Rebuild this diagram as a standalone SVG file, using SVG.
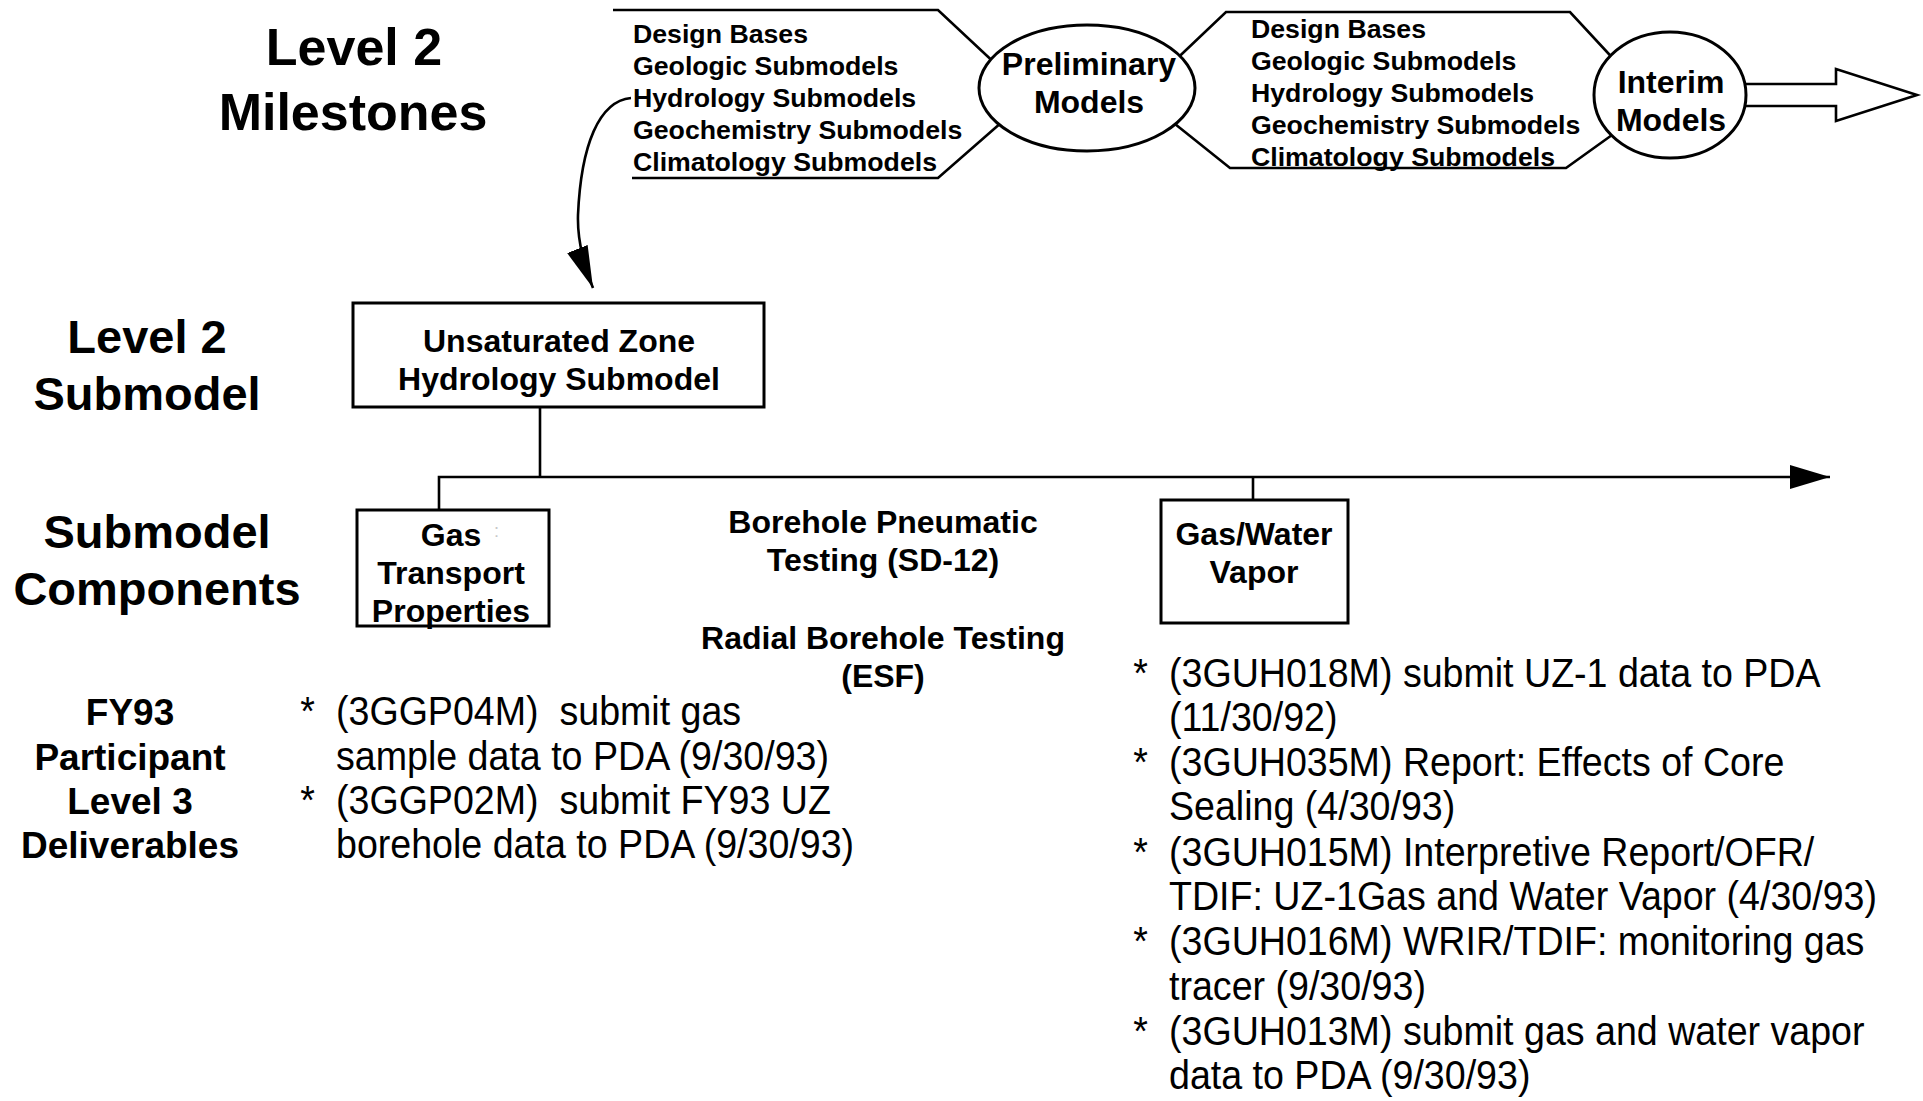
<svg xmlns="http://www.w3.org/2000/svg" width="1923" height="1101" viewBox="0 0 1923 1101">
  <style>
    .ln { stroke: #000; stroke-width: 2.6; fill: none; }
    .box { fill: #fff; stroke: #000; stroke-width: 3; }
    .b { font-family: "Liberation Sans", Arial, Helvetica, sans-serif; font-weight: bold; fill: #000; }
    .r { font-family: "Liberation Sans", Arial, Helvetica, sans-serif; font-weight: normal; fill: #000; }
    .mid { text-anchor: middle; }
    .big { font-size: 52px; }
    .lab { font-size: 47px; }
    .lab3 { font-size: 37px; }
    .nd { font-size: 32px; }
    .lst { font-size: 26.7px; }
    .del { font-size: 40px; }
  </style>
  <defs>
    <marker id="head" viewBox="0 0 40 24" refX="40" refY="12" markerWidth="40" markerHeight="24" markerUnits="userSpaceOnUse" orient="auto">
      <path d="M0,0 L40,12 L0,24 z" fill="#000"/>
    </marker>
    <marker id="headSlim" viewBox="0 0 42 22" refX="42" refY="11" markerWidth="42" markerHeight="22" markerUnits="userSpaceOnUse" orient="auto">
      <path d="M0,0 L42,11 L0,22 z" fill="#000"/>
    </marker>
  </defs>
  <rect width="1923" height="1101" fill="#fff"/>

  <!-- row labels -->
  <g id="row-labels">
    <text class="b big mid" x="354" y="65">Level 2</text>
    <text class="b big mid" x="353" y="130">Milestones</text>
    <text class="b lab mid" x="147" y="353">Level 2</text>
    <text class="b lab mid" x="147" y="410">Submodel</text>
    <text class="b lab mid" x="157" y="548">Submodel</text>
    <text class="b lab mid" x="157" y="605">Components</text>
    <text class="b lab3 mid" x="130" y="725">FY93</text>
    <text class="b lab3 mid" x="130" y="770">Participant</text>
    <text class="b lab3 mid" x="130" y="814">Level 3</text>
    <text class="b lab3 mid" x="130" y="858">Deliverables</text>
  </g>

  <!-- connectors -->
  <g id="connectors">
    <!-- first milestone bracket -->
    <path class="ln" d="M613,10 L938,10 L1000,68"/>
    <path class="ln" d="M632,178 L938,178 L1010,115"/>
    <!-- second milestone bracket -->
    <path class="ln" d="M1165,70 L1226,12 L1570,12 L1620,66"/>
    <path class="ln" d="M1160,112 L1230,168 L1566,168 L1612,135"/>
    <!-- hollow arrow onward -->
    <polygon points="1742,84 1836,84 1836,69 1917,95 1836,121 1836,106 1742,106" fill="#fff" stroke="#000" stroke-width="2.6"/>
    <!-- hydrology submodels down to the UZ submodel -->
    <path class="ln" d="M631,98 C599,101 581,145 578,215 Q577,248 593,288" marker-end="url(#headSlim)"/>
    <!-- submodel to component bus -->
    <path class="ln" d="M540,407 L540,477"/>
    <path class="ln" d="M439,510 L439,477 L1830,477" marker-end="url(#head)"/>
    <path class="ln" d="M1253,477 L1253,500"/>
  </g>

  <!-- milestone item lists -->
  <g id="list-preliminary">
    <text class="b lst" x="633" y="43">Design Bases</text>
    <text class="b lst" x="633" y="75">Geologic Submodels</text>
    <text class="b lst" x="633" y="107">Hydrology Submodels</text>
    <text class="b lst" x="633" y="139">Geochemistry Submodels</text>
    <text class="b lst" x="633" y="171">Climatology Submodels</text>
  </g>
  <g id="list-interim">
    <text class="b lst" x="1251" y="38">Design Bases</text>
    <text class="b lst" x="1251" y="70">Geologic Submodels</text>
    <text class="b lst" x="1251" y="102">Hydrology Submodels</text>
    <text class="b lst" x="1251" y="134">Geochemistry Submodels</text>
    <text class="b lst" x="1251" y="166">Climatology Submodels</text>
  </g>

  <g id="preliminary-models">
    <ellipse class="box" cx="1087" cy="88" rx="108" ry="63" stroke-width="2.6"/>
    <text class="b nd mid" x="1089" y="75">Preliminary</text>
    <text class="b nd mid" x="1089" y="113">Models</text>
  </g>
  <g id="interim-models">
    <ellipse class="box" cx="1670" cy="95" rx="76" ry="63" stroke-width="2.6"/>
    <text class="b nd mid" x="1671" y="93">Interim</text>
    <text class="b nd mid" x="1671" y="131">Models</text>
  </g>

  <g id="uz-hydrology-submodel">
    <rect class="box" x="353" y="303" width="411" height="104"/>
    <text class="b nd mid" x="559" y="352">Unsaturated Zone</text>
    <text class="b nd mid" x="559" y="390">Hydrology Submodel</text>
  </g>

  <g id="gas-transport-properties">
    <rect class="box" x="357" y="510" width="192" height="116"/>
    <text class="b nd mid" x="451" y="546">Gas</text>
    <text class="r" x="494" y="537" font-size="18" style="fill:#c8c8c8">:</text>
    <text class="b nd mid" x="451" y="584">Transport</text>
    <text class="b nd mid" x="451" y="622">Properties</text>
  </g>

  <g id="borehole-pneumatic-testing">
    <text class="b nd mid" x="883" y="533">Borehole Pneumatic</text>
    <text class="b nd mid" x="883" y="571">Testing (SD-12)</text>
  </g>
  <g id="radial-borehole-testing">
    <text class="b nd mid" x="883" y="649">Radial Borehole Testing</text>
    <text class="b nd mid" x="883" y="687">(ESF)</text>
  </g>

  <g id="gas-water-vapor">
    <rect class="box" x="1161" y="500" width="187" height="123"/>
    <text class="b nd mid" x="1254" y="545">Gas/Water</text>
    <text class="b nd mid" x="1254" y="583">Vapor</text>
  </g>

  <!-- level 3 deliverables, set slightly narrow -->
  <g id="deliverables-gas-transport" transform="translate(336,0) scale(0.94,1)">
    <text class="r del" x="-38" y="725">*</text>
    <text class="r del" x="0" y="725">(3GGP04M) &#160;submit gas</text>
    <text class="r del" x="0" y="770">sample data to PDA (9/30/93)</text>
    <text class="r del" x="-38" y="814">*</text>
    <text class="r del" x="0" y="814">(3GGP02M) &#160;submit FY93 UZ</text>
    <text class="r del" x="0" y="858">borehole data to PDA (9/30/93)</text>
  </g>
  <g id="deliverables-gas-water-vapor" transform="translate(1169,0) scale(0.94,1)">
    <text class="r del" x="-38" y="687">*</text>
    <text class="r del" x="0" y="687">(3GUH018M) submit UZ-1 data to PDA</text>
    <text class="r del" x="0" y="731">(11/30/92)</text>
    <text class="r del" x="-38" y="776">*</text>
    <text class="r del" x="0" y="776">(3GUH035M) Report: Effects of Core</text>
    <text class="r del" x="0" y="820">Sealing (4/30/93)</text>
    <text class="r del" x="-38" y="866">*</text>
    <text class="r del" x="0" y="866">(3GUH015M) Interpretive Report/OFR/</text>
    <text class="r del" x="0" y="910">TDIF: UZ-1Gas and Water Vapor (4/30/93)</text>
    <text class="r del" x="-38" y="955">*</text>
    <text class="r del" x="0" y="955">(3GUH016M) WRIR/TDIF: monitoring gas</text>
    <text class="r del" x="0" y="1000">tracer (9/30/93)</text>
    <text class="r del" x="-38" y="1045">*</text>
    <text class="r del" x="0" y="1045">(3GUH013M) submit gas and water vapor</text>
    <text class="r del" x="0" y="1089">data to PDA (9/30/93)</text>
  </g>
</svg>
